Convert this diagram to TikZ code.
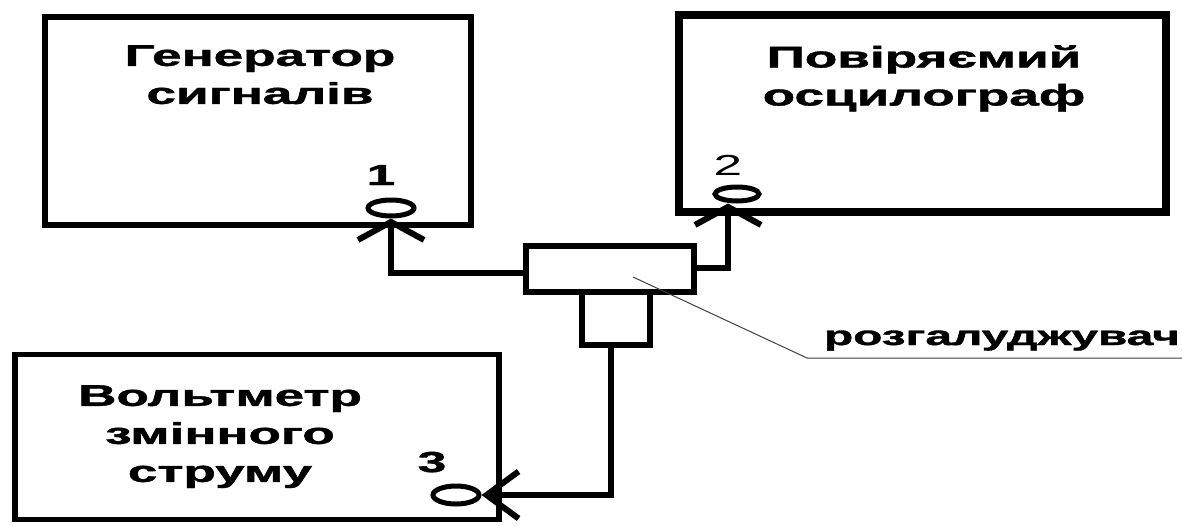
\documentclass[tikz,border=0pt]{standalone}
\usepackage{fontspec}
\setmainfont{Liberation Sans}
\newfontfamily\heavy[BoldFeatures={FakeBold=1.2}]{Liberation Sans}
\usepackage{graphicx}
\usepackage{tikz}
\usetikzlibrary{calc,shapes,arrows.meta,positioning}
\newcommand{\wide}[1]{\scalebox{1.77}[1]{#1}}

\begin{document}
\begin{tikzpicture}[x=1pt,y=-1pt]
    \tikzstyle{device}=[draw,line width=5.5pt,inner sep=0pt,outer sep=0pt]
    \tikzstyle{jack}=[draw,ellipse,line width=5pt,inner sep=0pt]
    \tikzstyle{caption}=[font=\fontsize{30}{38}\selectfont\heavy\bfseries,align=center,inner sep=0pt,anchor=north]
    \tikzstyle{num}=[font=\fontsize{29}{29}\selectfont\heavy\bfseries,inner sep=0pt,anchor=base]
    \tikzstyle{wire}=[line width=6pt]
    \tikzstyle{plug}=[-{Straight Barb[length=18pt,width=66pt]}]
    \tikzstyle{plugside}=[-{Straight Barb[length=32pt,width=47pt]}]
    \tikzstyle{leader}=[line width=1pt,black!75]

    \useasboundingbox (0,0) rectangle (1182,525);

    % devices
    \node[device,minimum width=426pt,minimum height=208pt] (gen) at (258,121) {};
    \node[device,line width=8pt,minimum width=487pt,minimum height=197pt] (osc) at (922,113) {};
    \node[device,minimum width=484pt,minimum height=165pt] (volt) at (257,437) {};
    \node[caption] (gentext) at (260,45) {\wide{Генератор}\\\wide{сигналів}};
    \node[caption] (osctext) at (924,45) {\wide{Повіряємий}\\\wide{осцилограф}};
    \node[caption] (volttext) at (220,385) {\wide{Вольтметр}\\\wide{змінного}\\\wide{струму}};

    % sockets
    \node[jack,minimum width=46pt,minimum height=16pt] (j1) at (391,208) {};
    \node[jack,minimum width=44pt,minimum height=14pt] (j2) at (737,194) {};
    \node[jack,minimum width=46pt,minimum height=18pt] (j3) at (456,495) {};
    \node[num] (n1) at (381,185) {\wide{1}};
    \node[num] (n2) at (728,175) {\wide{\mdseries 2}};
    \node[num] (n3) at (432,472) {\wide{3}};

    % splitter
    \node[device,minimum width=168pt,minimum height=46pt] (split) at (610,269) {};
    \node[device,minimum width=68pt,minimum height=53pt,below=0pt of split,xshift=6pt] (stub) {};
    \node[font=\fontsize{27}{27}\selectfont\heavy\bfseries,inner sep=0pt,anchor=base east] (lbl) at (1180,345) {\wide{розгалуджувач}};
    \coordinate (bend) at (807,358);

    \draw[wire,plug] ([yshift=-4pt]split.west) -| (j1.south);
    \draw[wire,plug] ([yshift=1pt]split.east) -| ([xshift=-9pt]j2.south);
    \draw[wire,plugside] ([xshift=-5pt]stub.south) |- (j3.east);
    \draw[leader] ($(split.center)+(23,8)$) -- (bend) -- (bend -| 1182,0);
\end{tikzpicture}
\end{document}
